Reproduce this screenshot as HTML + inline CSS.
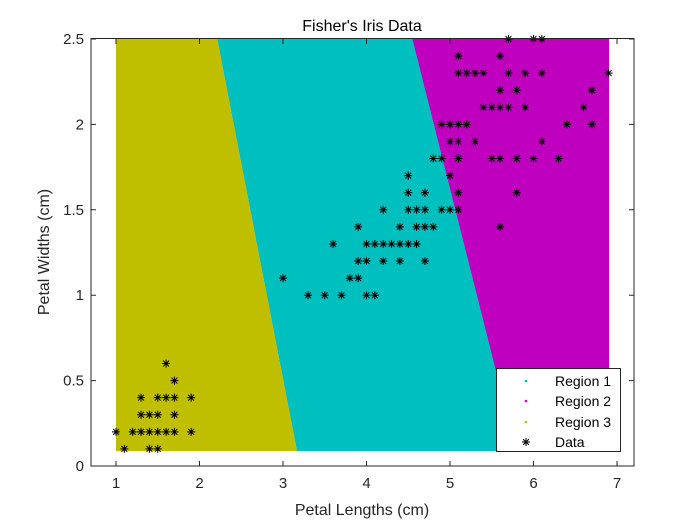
<!DOCTYPE html>
<html><head><meta charset="utf-8"><style>
body{margin:0;background:#fff}
svg{display:block;font-family:"Liberation Sans",Arial,sans-serif}
</style></head><body>
<svg id="s" width="700" height="525" viewBox="0 0 700 525">
<rect width="700" height="525" fill="#fff"/>
<polygon points="116,38 217,38 297,451 116,451" fill="#bfbf00"/>
<polygon points="217,38 412,38 516,451 297,451" fill="#00bfbf"/>
<polygon points="412,38 609,38 609,451 516,451" fill="#bf00bf"/>
<g id="pts" stroke="#000" stroke-width="1" fill="none"></g>
<rect x="91" y="38.5" width="543" height="427.5" fill="none" stroke="#262626" stroke-width="1"/>
<g id="ticks" stroke="#262626" stroke-width="1"></g>
<g font-size="15" fill="#262626" text-anchor="middle" id="xl"></g>
<g font-size="15" fill="#262626" text-anchor="end" id="yl"></g>
<text x="362" y="31" font-size="16" text-anchor="middle" fill="#000">Fisher's Iris Data</text>
<text x="362" y="515" font-size="16" text-anchor="middle" fill="#262626">Petal Lengths (cm)</text>
<text transform="translate(49,252) rotate(-90)" font-size="16" text-anchor="middle" fill="#262626">Petal Widths (cm)</text>
<rect x="496.5" y="368.5" width="124" height="83" fill="#fff" stroke="#262626"/>
<circle cx="526" cy="381" r="1.3" fill="#00bfbf"/>
<circle cx="526" cy="401" r="1.3" fill="#bf00bf"/>
<circle cx="526" cy="422" r="1.3" fill="#bfbf00"/>
<g font-size="14" fill="#000">
<text x="555" y="386">Region 1</text>
<text x="555" y="406">Region 2</text>
<text x="555" y="427">Region 3</text>
<text x="555" y="447">Data</text>
</g>
<g id="lg" stroke="#000"></g>
</svg>
<script>
var d="1.4 .2,1.4 .2,1.3 .2,1.5 .2,1.4 .2,1.7 .4,1.4 .3,1.5 .2,1.4 .2,1.5 .1,1.5 .2,1.6 .2,1.4 .1,1.1 .1,1.2 .2,1.5 .4,1.3 .4,1.4 .3,1.7 .3,1.5 .3,1.7 .2,1.5 .4,1.0 .2,1.7 .5,1.9 .2,1.6 .2,1.6 .4,1.5 .2,1.4 .2,1.6 .2,1.6 .2,1.5 .4,1.5 .1,1.4 .2,1.5 .2,1.2 .2,1.3 .2,1.4 .1,1.3 .2,1.5 .2,1.3 .3,1.3 .3,1.3 .2,1.6 .6,1.9 .4,1.4 .3,1.6 .2,1.4 .2,1.5 .2,1.4 .2,4.7 1.4,4.5 1.5,4.9 1.5,4.0 1.3,4.6 1.5,4.5 1.3,4.7 1.6,3.3 1.0,4.6 1.3,3.9 1.4,3.5 1.0,4.2 1.5,4.0 1.0,4.7 1.4,3.6 1.3,4.4 1.4,4.5 1.5,4.1 1.0,4.5 1.5,3.9 1.1,4.8 1.8,4.0 1.3,4.9 1.5,4.7 1.2,4.3 1.3,4.4 1.4,4.8 1.4,5.0 1.7,4.5 1.5,3.5 1.0,3.8 1.1,3.7 1.0,3.9 1.2,5.1 1.6,4.5 1.5,4.5 1.6,4.7 1.5,4.4 1.3,4.1 1.3,4.0 1.3,4.4 1.2,4.6 1.4,4.0 1.2,3.3 1.0,4.2 1.3,4.2 1.2,4.2 1.3,4.3 1.3,3.0 1.1,4.1 1.3,6.0 2.5,5.1 1.9,5.9 2.1,5.6 1.8,5.8 2.2,6.6 2.1,4.5 1.7,6.3 1.8,5.8 1.8,6.1 2.5,5.1 2.0,5.3 1.9,5.5 2.1,5.0 2.0,5.1 2.4,5.3 2.3,5.5 1.8,6.7 2.2,6.9 2.3,5.0 1.5,5.7 2.3,4.9 2.0,6.7 2.0,4.9 1.8,5.7 2.1,6.0 1.8,4.8 1.8,4.9 1.8,5.6 2.1,5.8 1.6,6.1 1.9,6.4 2.0,5.6 2.2,5.1 1.5,5.6 1.4,6.1 2.3,5.6 2.4,5.5 1.8,4.8 1.8,5.4 2.1,5.6 2.4,5.1 2.3,5.1 1.9,5.9 2.3,5.7 2.5,5.2 2.3,5.0 1.9,5.2 2.0,5.4 2.3,5.1 1.8";
function star(x,y){var r=4,q=2.9;return "M"+(x-r)+" "+y+"H"+(x+r)+"M"+x+" "+(y-r)+"V"+(y+r)+"M"+(x-q)+" "+(y-q)+"L"+(x+q)+" "+(y+q)+"M"+(x-q)+" "+(y+q)+"L"+(x+q)+" "+(y-q);}
var p="";d.split(",").forEach(function(s){var a=s.split(" ");var x=116+(+a[0]-1)*83.5,y=466-(+a[1])*170.8;p+=star(x,y);});
var ns="http://www.w3.org/2000/svg";
var e=document.createElementNS(ns,"path");e.setAttribute("d",p);document.getElementById("pts").appendChild(e);
var l=document.createElementNS(ns,"path");l.setAttribute("d",star(526,442));document.getElementById("lg").appendChild(l);
var t="",xl=document.getElementById("xl"),yl=document.getElementById("yl");
for(var i=1;i<=7;i++){var x=116+(i-1)*83.5;t+="M"+x+" 466V461M"+x+" 39V44";var tx=document.createElementNS(ns,"text");tx.setAttribute("x",x);tx.setAttribute("y",488);tx.textContent=i;xl.appendChild(tx);}
var yv=["0","0.5","1","1.5","2","2.5"];
for(var j=0;j<6;j++){var y=466-j*0.5*170.8;t+="M91 "+y+"H96M634 "+y+"H629";var ty=document.createElementNS(ns,"text");ty.setAttribute("x",84);ty.setAttribute("y",y+5);ty.textContent=yv[j];yl.appendChild(ty);}
var tk=document.createElementNS(ns,"path");tk.setAttribute("d",t);document.getElementById("ticks").appendChild(tk);
</script>
</body></html>
